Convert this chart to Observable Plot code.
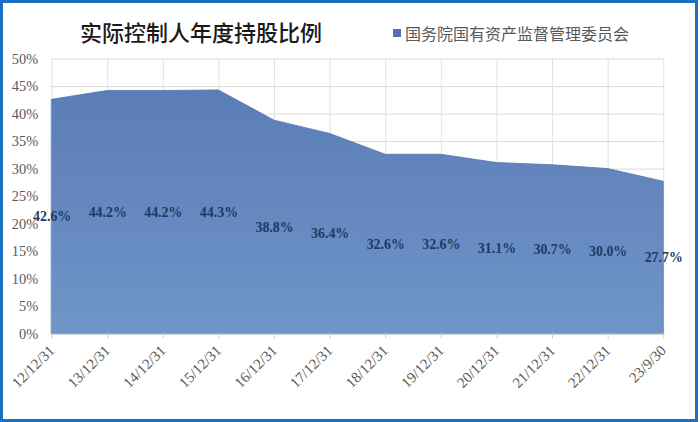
<!DOCTYPE html>
<html>
<head>
<meta charset="utf-8">
<script src="https://cdn.jsdelivr.net/npm/d3@7"></script>
<script src="https://cdn.jsdelivr.net/npm/@observablehq/plot@0.6"></script>
<style>
  html, body { margin: 0; padding: 0; background: #fff; }
  #frame { position: relative; width: 698px; height: 422px; box-sizing: border-box; border: 3px solid #1b6fc2; background: #fff; overflow: hidden; }
  #title { position: absolute; left: 77px; top: 12px; font-family: "Noto Sans CJK SC", sans-serif; font-size: 22px; font-weight: 500; color: #1a1a1a; white-space: nowrap; }
  #legend { position: absolute; left: 390px; top: 18px; font-family: "Noto Sans CJK SC", sans-serif; font-size: 16px; color: #595959; white-space: nowrap; display: flex; align-items: center; }
  #legend .sw { width: 8px; height: 8px; background: #4f72aa; margin-right: 4px; }
  #chart { position: absolute; left: -3px; top: -3px; }
</style>
</head>
<body>
<div id="frame">
  <div id="chart"></div>
  <div id="title">实际控制人年度持股比例</div>
  <div id="legend"><span class="sw"></span><span>国务院国有资产监督管理委员会</span></div>
</div>
<script>
const dates = ["12/12/31","13/12/31","14/12/31","15/12/31","16/12/31","17/12/31","18/12/31","19/12/31","20/12/31","21/12/31","22/12/31","23/9/30"];
const shares = [42.6, 44.2, 44.2, 44.3, 38.8, 36.4, 32.6, 32.6, 31.1, 30.7, 30.0, 27.7];
const yTicks = [0, 5, 10, 15, 20, 25, 30, 35, 40, 45, 50];
const seriesName = "国务院国有资产监督管理委员会";

const data = dates.map((d, i) => ({date: d, value: shares[i]}));
const serif = '"Liberation Serif", "Times New Roman", serif';

const plot = Plot.plot({
  width: 700,
  height: 422,
  marginTop: 59,
  marginBottom: 86,
  marginLeft: 51,
  marginRight: 31,
  style: {fontFamily: serif, background: "transparent", overflow: "visible"},
  x: {type: "point", domain: dates, padding: 0, label: null},
  y: {domain: [0, 50], label: null},
  marks: [
    Plot.gridY(yTicks, {stroke: "#d9d9d9", strokeOpacity: 1, strokeWidth: 1}),
    Plot.gridX(dates, {stroke: "#e3e3e3", strokeOpacity: 1, strokeWidth: 1}),
    Plot.areaY(data, {x: "date", y: "value", fill: "url(#areaGrad)", stroke: "#5274ad", strokeWidth: 0.8}),
    Plot.ruleY([0], {stroke: "#d0d0d0"}),
    Plot.axisY(yTicks, {tickSize: 0, tickPadding: 13, tickFormat: d => d + "%", fontSize: 14.5, fill: "#595959", label: null}),
    Plot.axisX(dates, {tickSize: 5, tickPadding: 9, tickRotate: -45, fontSize: 15, fill: "#595959", stroke: "#d0d0d0", label: null}),
    Plot.text(data, {x: "date", y: d => d.value / 2, text: d => d.value.toFixed(1) + "%", fontSize: 14, fontWeight: "bold", fill: "#1f3864", fontFamily: serif})
  ]
});

d3.select(plot).insert("defs", ":first-child").html(
  '<linearGradient id="areaGrad" x1="0" y1="0" x2="0" y2="1">' +
  '<stop offset="0" stop-color="#5a7db6"/><stop offset="1" stop-color="#7095c8"/></linearGradient>'
);
document.getElementById("chart").appendChild(plot);
</script>
</body>
</html>
